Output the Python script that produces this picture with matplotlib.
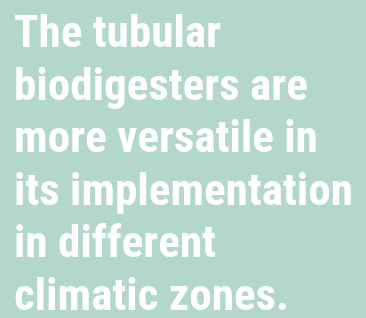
import matplotlib
matplotlib.use("Agg")
import matplotlib.pyplot as plt

# Text of the panel, one entry per line
lines = [
    "The tubular",
    "biodigesters are",
    "more versatile in",
    "its implementation",
    "in different",
    "climatic zones.",
]

bg_color = "#b3d8cb"
text_color = "white"

W, H, dpi = 366, 318, 100
fig = plt.figure(figsize=(W / dpi, H / dpi), dpi=dpi, facecolor=bg_color)

x0 = 14
base0 = 47
pitch = 52.6
for i, line in enumerate(lines):
    y = base0 + i * pitch
    fig.text(x0 / W, 1 - y / H, line, color=text_color, fontsize=32.5,
             fontweight="bold", fontstretch="condensed",
             family=["Roboto Condensed", "DejaVu Sans"],
             ha="left", va="baseline")

fig.savefig("out.png", dpi=dpi, facecolor=bg_color)
